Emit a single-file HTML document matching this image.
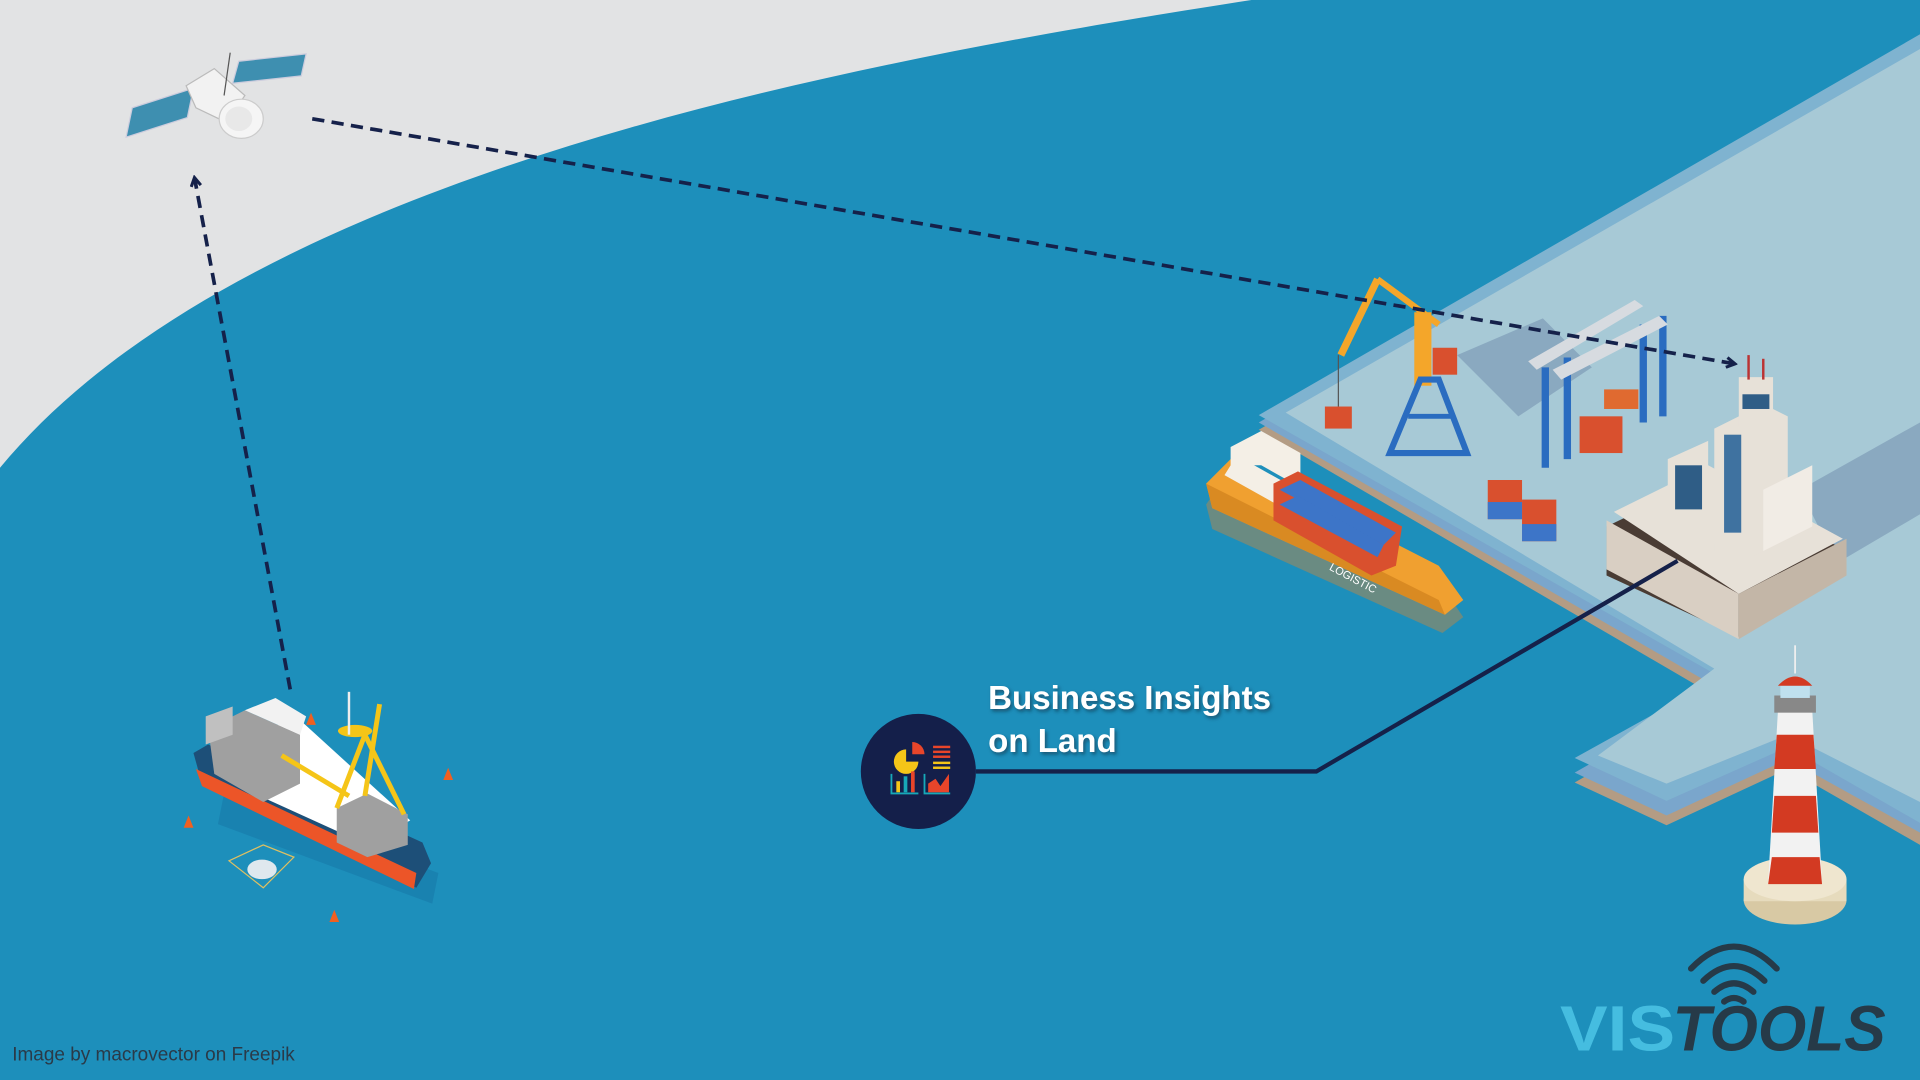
<!DOCTYPE html>
<html><head><meta charset="utf-8"><style>
html,body{margin:0;padding:0;width:1920px;height:1080px;overflow:hidden;background:#1d8fbb}
svg{display:block}
</style></head><body>
<svg width="1920" height="1080" viewBox="0 0 1568 882" preserveAspectRatio="none" xmlns="http://www.w3.org/2000/svg">
<defs>
<marker id="ar" markerWidth="10" markerHeight="10" refX="7" refY="5" orient="auto" markerUnits="userSpaceOnUse">
<path d="M1,1 L8,5 L1,9" fill="none" stroke="#15214a" stroke-width="2.5"/>
</marker>
<filter id="sh" x="-10%" y="-10%" width="130%" height="150%"><feDropShadow dx="1.5" dy="2" stdDeviation="1.5" flood-color="#0a2a40" flood-opacity="0.6"/></filter>
</defs>
<rect width="1568" height="882" fill="#1d8fbb"/>
<path d="M0 0 L1022 0 C700 50 200 140 0 382 Z" fill="#e2e3e4"/>

<!-- land -->
<g>
<polygon points="1028,351 1568,40 1568,690 1460,628 1361,674 1286,639 1405,571" fill="#b39c84"/>
<polygon points="1028,345 1568,34 1568,680 1460,620 1361,666 1286,631 1405,563" fill="#7aa6cc"/>
<polygon points="1028,339 1568,28 1568,672 1460,610 1361,654 1286,619 1405,553" fill="#7fb3d0"/>
<polygon points="1050,337 1568,40 1568,655 1460,600 1361,640 1305,617 1400,546 " fill="#a7c9d6"/>
</g>
<!-- shadows on land -->
<polygon points="1190,290 1260,260 1300,300 1240,340" fill="#7e9bb6" opacity="0.7"/>
<polygon points="1470,400 1568,345 1568,420 1500,460" fill="#7e9bb6" opacity="0.7"/>

<!-- crane orange -->
<g>
<line x1="1095" y1="290" x2="1125" y2="228" stroke="#f4a62a" stroke-width="6"/>
<line x1="1125" y1="228" x2="1175" y2="265" stroke="#f4a62a" stroke-width="5"/>
<rect x="1155" y="255" width="14" height="60" fill="#f4a62a"/>
<rect x="1170" y="284" width="20" height="22" fill="#d9502e"/>
<polygon points="1135,370 1160,310 1175,310 1198,370" fill="none" stroke="#2a6cc0" stroke-width="5"/>
<line x1="1150" y1="340" x2="1185" y2="340" stroke="#2a6cc0" stroke-width="4"/>
<line x1="1093" y1="290" x2="1093" y2="332" stroke="#555" stroke-width="1"/>
<rect x="1082" y="332" width="22" height="18" fill="#d9502e"/>
</g>
<!-- gantry -->
<g fill="none" stroke="#2a6cc0" stroke-width="6">
<line x1="1262" y1="300" x2="1262" y2="382"/>
<line x1="1280" y1="292" x2="1280" y2="375"/>
<line x1="1342" y1="265" x2="1342" y2="345"/>
<line x1="1358" y1="258" x2="1358" y2="340"/>
</g>
<polygon points="1248,295 1335,245 1342,250 1255,302" fill="#d7dbe0"/>
<polygon points="1268,302 1355,258 1362,265 1275,310" fill="#d7dbe0"/>
<rect x="1290" y="340" width="35" height="30" fill="#d9502e"/>
<rect x="1310" y="318" width="28" height="16" fill="#e06a30"/>
<rect x="1215" y="392" width="28" height="32" fill="#d9502e"/>
<rect x="1243" y="408" width="28" height="34" fill="#d9502e"/>
<rect x="1215" y="410" width="28" height="14" fill="#3d75c8"/>
<rect x="1243" y="428" width="28" height="14" fill="#3d75c8"/>

<!-- building -->
<g>
<polygon points="1312,430 1395,390 1508,450 1420,520 1312,470" fill="#4a3c34"/>
<polygon points="1312,425 1420,485 1420,522 1312,465" fill="#d9cfc3"/>
<polygon points="1420,485 1508,440 1508,470 1420,522" fill="#c3b6a7"/>
<polygon points="1318,418 1395,380 1505,440 1420,485" fill="#e7e1d8"/>
<polygon points="1362,375 1395,360 1395,410 1362,425" fill="#e7e1d8"/>
<rect x="1368" y="380" width="22" height="36" fill="#2f5d86"/>
<polygon points="1400,350 1440,330 1460,340 1460,440 1420,460 1400,450" fill="#e7e1d8"/>
<rect x="1408" y="355" width="14" height="80" fill="#3f72a0"/>
<polygon points="1440,400 1480,380 1480,430 1440,450" fill="#f1ece5"/>
<rect x="1420" y="308" width="28" height="40" fill="#e7e1d8"/>
<rect x="1423" y="322" width="22" height="12" fill="#2f5d86"/>
<line x1="1428" y1="290" x2="1428" y2="310" stroke="#b33" stroke-width="2"/>
<line x1="1440" y1="293" x2="1440" y2="310" stroke="#b33" stroke-width="2"/>
</g>

<!-- container ship -->
<g>
<polygon points="985,400 1000,378 1180,470 1195,492 1178,505 990,420" fill="#b8874a" opacity="0.5" transform="translate(0,12)"/>
<polygon points="985,395 1005,375 1175,462 1195,490 1180,502 990,415" fill="#f0a030"/>
<polygon points="985,395 1175,490 1180,502 990,415" fill="#d98a22"/>
<polygon points="1000,388 1010,372 1060,400 1050,416" fill="#f4efe6"/>
<polygon points="1005,365 1030,352 1062,370 1062,398 1030,380 1005,380" fill="#f4efe6"/>
<polygon points="1040,395 1060,385 1145,430 1140,462 1120,470 1040,425" fill="#d9502e"/>
<polygon points="1045,400 1062,392 1140,435 1130,445" fill="#3d75c8"/>
<polygon points="1045,412 1060,405 1130,445 1125,455" fill="#3d75c8"/>
<text x="1085" y="465" font-family="Liberation Sans, sans-serif" font-size="9" fill="#fff" transform="rotate(28 1085 465)">LOGISTIC</text>
</g>

<!-- lighthouse -->
<g>
<ellipse cx="1466" cy="735" rx="42" ry="20" fill="#d8c9a4"/>
<rect x="1424" y="718" width="84" height="18" fill="#e6dbbd"/>
<ellipse cx="1466" cy="718" rx="42" ry="18" fill="#efe6cf"/>
<polygon points="1452,580 1480,580 1488,720 1444,720" fill="#f2f2f2"/>
<polygon points="1451,600 1481,600 1483,628 1449,628" fill="#d33a22"/>
<polygon points="1449,650 1483,650 1485,680 1447,680" fill="#d33a22"/>
<polygon points="1447,700 1486,700 1488,722 1444,722" fill="#d33a22"/>
<rect x="1449" y="568" width="34" height="14" fill="#888"/>
<rect x="1454" y="560" width="24" height="10" fill="#bfe0ee"/>
<path d="M1452,560 Q1466,545 1480,560 Z" fill="#d33a22"/>
<line x1="1466" y1="527" x2="1466" y2="550" stroke="#eee" stroke-width="1.5"/>
</g>

<!-- fishing boat -->
<g>
<polygon points="175,640 350,705 345,730 170,665" fill="#156fa0" opacity="0.4" transform="translate(8,8)"/>
<polygon points="158,615 170,608 345,688 352,705 340,725 165,640" fill="#1d4f78"/>
<polygon points="160,628 340,713 338,726 165,642" fill="#ec5528"/>
<polygon points="172,605 245,588 335,670 300,690 190,640" fill="#ffffff"/>
<polygon points="170,595 200,580 245,600 245,640 215,655 175,632" fill="#a0a0a0"/>
<polygon points="200,580 225,570 250,585 245,600" fill="#f2f2f2"/>
<polygon points="168,585 190,577 190,600 168,608" fill="#c0c0c0"/>
<polygon points="275,660 300,648 333,665 333,690 300,700 275,688" fill="#a0a0a0"/>
<line x1="275" y1="660" x2="298" y2="600" stroke="#f5c518" stroke-width="4"/>
<line x1="298" y1="600" x2="330" y2="665" stroke="#f5c518" stroke-width="4"/>
<line x1="310" y1="575" x2="298" y2="650" stroke="#f5c518" stroke-width="4"/>
<line x1="230" y1="617" x2="285" y2="650" stroke="#f5c518" stroke-width="4"/>
<ellipse cx="290" cy="597" rx="14" ry="5" fill="#f5c518"/>
<line x1="285" y1="565" x2="285" y2="600" stroke="#eee" stroke-width="2"/>
<polygon points="187,703 215,690 240,700 215,725" fill="none" stroke="#e0c060" stroke-width="1"/>
<ellipse cx="214" cy="710" rx="12" ry="8" fill="#dfe8ee"/>
<g fill="#f06020"><path d="M250,592 l4,-10 l4,10z"/><path d="M362,637 l4,-10 l4,10z"/><path d="M150,676 l4,-10 l4,10z"/><path d="M269,753 l4,-10 l4,10z"/></g>
</g>

<!-- satellite -->
<g>
<polygon points="103,112 108,88 158,72 153,96" fill="#3e8fb0" stroke="#ccd" stroke-width="1"/>
<polygon points="190,68 195,50 250,44 246,62" fill="#3e8fb0" stroke="#ccd" stroke-width="1"/>
<polygon points="152,70 175,56 200,78 185,100 160,88" fill="#f2f2f2" stroke="#bbb"/>
<ellipse cx="197" cy="97" rx="18" ry="16" fill="#f5f5f5" stroke="#ccc"/>
<ellipse cx="195" cy="97" rx="11" ry="10" fill="#e8e8e8"/>
<line x1="183" y1="78" x2="188" y2="43" stroke="#555" stroke-width="1"/>
</g>

<!-- dashed connectors -->
<line x1="237" y1="563" x2="159" y2="146" stroke="#15214a" stroke-width="3" stroke-dasharray="10,6" marker-end="url(#ar)"/>
<line x1="255" y1="97" x2="1416" y2="297" stroke="#15214a" stroke-width="3" stroke-dasharray="10,6" marker-end="url(#ar)"/>

<!-- solid line -->
<polyline points="797,630 1075,630 1370,458" fill="none" stroke="#15214a" stroke-width="3.5"/>
<circle cx="750" cy="630" r="47" fill="#141f4a"/>
<g>
<path d="M740,612 a10,10 0 1 0 10,10 h-10z" fill="#f5c518"/>
<path d="M745,606 v10 h10 a10,10 0 0 0 -10,-10z" fill="#e8452a"/>
<g fill="#e8452a"><rect x="762" y="609" width="14" height="2"/><rect x="762" y="613" width="14" height="2"/><rect x="762" y="617" width="14" height="2"/></g>
<g fill="#f5c518"><rect x="762" y="622" width="14" height="2"/><rect x="762" y="626" width="14" height="2"/></g>
<polyline points="728,632 728,648 750,648" fill="none" stroke="#17a8b8" stroke-width="1.5"/>
<rect x="732" y="638" width="3" height="9" fill="#f5c518"/><rect x="738" y="634" width="3" height="13" fill="#17a8b8"/><rect x="744" y="630" width="3" height="17" fill="#e8452a"/>
<polyline points="755,632 755,648 776,648" fill="none" stroke="#17a8b8" stroke-width="1.5"/>
<polygon points="758,647 758,640 764,636 768,642 775,632 775,647" fill="#e8452a"/>
</g>
<g filter="url(#sh)" font-family="Liberation Sans, sans-serif" font-weight="bold" font-size="27" fill="#ffffff">
<text x="807" y="579">Business Insights</text>
<text x="807" y="614">on Land</text>
</g>

<text x="10" y="866" font-family="Liberation Sans, sans-serif" font-size="15.5" fill="#2a3a48">Image by macrovector on Freepik</text>

<!-- logo -->
<g fill="none" stroke="#263a48" stroke-width="5" stroke-linecap="round">
<path d="M1381,791 Q1416,755 1451,791"/>
<path d="M1391,801 Q1416,777 1441,801"/>
<path d="M1400,810 Q1416,796 1432,810"/>
<path d="M1408,818 Q1416,812 1424,818"/>
</g>
<text x="1274" y="858" font-family="Liberation Sans, sans-serif" font-weight="900" font-size="52" fill="#45bde0" textLength="94" lengthAdjust="spacingAndGlyphs">VIS</text>
<text x="1366" y="858" font-family="Liberation Sans, sans-serif" font-weight="bold" font-style="italic" font-size="52" fill="#263a48" textLength="174" lengthAdjust="spacingAndGlyphs">TOOLS</text>
</svg>
</body></html>
